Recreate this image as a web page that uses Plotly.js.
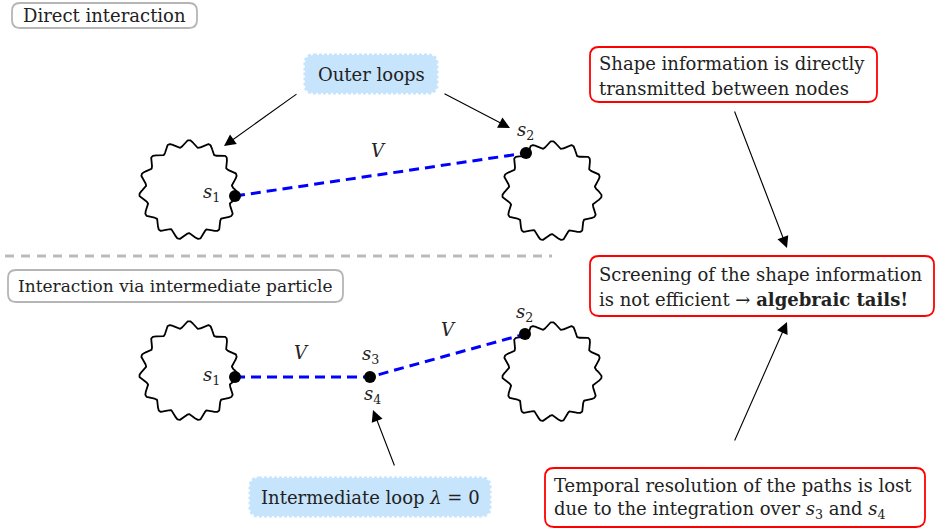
<!DOCTYPE html>
<html><head><meta charset="utf-8">
<script src="https://cdn.plot.ly/plotly-3.0.1.min.js"></script>
<style>html,body{margin:0;padding:0;background:#fff}#g{width:936px;height:531px}</style>
</head><body><div id="g"></div>
<script>
// Loops (wavy circles)
const loopCx = [189, 552, 189, 552];
const loopCy = [190, 191, 371, 372];
const loopR = [46.5, 46.5, 46.5, 46.5];
const loopWaves = 15;
const loopAmp = 3.4;

// Vertex dots
const dotX = [235, 526, 235, 370, 525];
const dotY = [196, 153, 377, 377, 334];

// Interaction lines (blue dashed)
const topLineX = [235, 526];
const topLineY = [196, 153];
const botLineX = [235, 370, 525];
const botLineY = [377, 377, 334];

// Math labels: symbol, subscript
const labelSym = ['s', 's', 'V', 's', 's', 's', 'V', 'V', 's'];
const labelSub = ['1', '2', '', '1', '3', '4', '', '', '2'];
const labelX = [211, 525, 378, 211, 370, 372, 301, 448, 524];
const labelY = [193, 131, 150, 376, 355, 395, 352, 329, 313];

// Arrows: tail -> head
const arrowTailX = [298, 443, 395, 734, 734];
const arrowTailY = [93, 93, 467, 110, 442];
const arrowHeadX = [224, 510, 373, 787, 787];
const arrowHeadY = [146, 128, 410, 248, 322];

// Boxes [x0,y0,x1,y1]
const grayBoxes = [[12, 3, 197, 28], [8, 270, 343, 302]];
const grayTexts = ['Direct interaction', 'Interaction via intermediate particle'];
const graySizes = [18, 17];
const redBoxes = [[590, 47, 877, 102], [590, 256, 934, 316], [545, 468, 925, 527]];
const redLines = [
  ['Shape information is directly', 'transmitted between nodes'],
  ['Screening of the shape information', 'is not efficient \u2192 <b>algebraic tails!</b>'],
  ['Temporal resolution of the paths is lost', 'due to the integration over <i>s</i><sub>3</sub> and <i>s</i><sub>4</sub>']
];
const redLineY = [[63, 88], [274, 299], [485, 510]];
const redTextX = [597, 597, 552];
const blueBoxes = [[305, 55, 437, 93], [250, 478, 490, 516]];
const blueTexts = ['Outer loops', 'Intermediate loop <i>\u03bb</i> = 0'];

// Separator
const sepX = [5, 552];
const sepY = [256, 256];

const FONT = 'DejaVu Serif';
const FS = 18;

function rrect(b, r) {
  const [x0, y0, x1, y1] = b;
  return `M${x0 + r},${y0} L${x1 - r},${y0} Q${x1},${y0} ${x1},${y0 + r} L${x1},${y1 - r} Q${x1},${y1} ${x1 - r},${y1} L${x0 + r},${y1} Q${x0},${y1} ${x0},${y1 - r} L${x0},${y0 + r} Q${x0},${y0} ${x0 + r},${y0} Z`;
}

const traces = [];
for (let i = 0; i < loopCx.length; i++) {
  const xs = [], ys = [];
  for (let k = 0; k <= 900; k++) {
    const t = 2 * Math.PI * k / 900;
    const r = loopR[i] + loopAmp * Math.sin(loopWaves * t);
    xs.push(loopCx[i] + r * Math.cos(t));
    ys.push(loopCy[i] + r * Math.sin(t));
  }
  traces.push({x: xs, y: ys, mode: 'lines', line: {color: '#000', width: 1.8}, hoverinfo: 'skip', showlegend: false});
}
traces.push({x: sepX, y: sepY, mode: 'lines', line: {color: '#bbbbbb', width: 3, dash: '9px,7px'}, showlegend: false});
traces.push({x: topLineX, y: topLineY, mode: 'lines', line: {color: '#0000ff', width: 3, dash: '10px,6px'}, showlegend: false});
traces.push({x: botLineX, y: botLineY, mode: 'lines', line: {color: '#0000ff', width: 3, dash: '10px,6px'}, showlegend: false});
traces.push({x: dotX, y: dotY, mode: 'markers', marker: {color: '#000', size: 12}, showlegend: false});

const shapes = [];
grayBoxes.forEach(b => shapes.push({type: 'path', path: rrect(b, 8), line: {color: '#b5b5b5', width: 1.8}, fillcolor: 'rgba(0,0,0,0)', layer: 'below'}));
redBoxes.forEach(b => shapes.push({type: 'path', path: rrect(b, 9), line: {color: '#ff0000', width: 1.8}, fillcolor: 'rgba(0,0,0,0)'}));
blueBoxes.forEach(b => shapes.push({type: 'path', path: rrect(b, 9), line: {color: '#c6e4fc', width: 3, dash: '3px,2px'}, fillcolor: '#c6e4fc', layer: 'below'}));

const ann = [];
const txtFont = {family: FONT, size: FS, color: '#222'};
for (let i = 0; i < labelSym.length; i++) {
  const t = '<i>' + labelSym[i] + '</i>' + (labelSub[i] ? '<sub>' + labelSub[i] + '</sub>' : '');
  ann.push({x: labelX[i], y: labelY[i], text: t, showarrow: false, xanchor: 'center', yanchor: 'middle', font: txtFont});
}
for (let i = 0; i < arrowTailX.length; i++) {
  ann.push({x: arrowHeadX[i], y: arrowHeadY[i], ax: arrowTailX[i], ay: arrowTailY[i], axref: 'x', ayref: 'y', xref: 'x', yref: 'y', text: '', showarrow: true, arrowhead: 2, arrowsize: 2.1, arrowwidth: 1.1, arrowcolor: '#000'});
}
grayBoxes.forEach((b, i) => ann.push({x: (b[0] + b[2]) / 2, y: (b[1] + b[3]) / 2, text: grayTexts[i], showarrow: false, font: {family: FONT, size: graySizes[i], color: '#222'}}));
blueBoxes.forEach((b, i) => ann.push({x: (b[0] + b[2]) / 2, y: (b[1] + b[3]) / 2, text: blueTexts[i], showarrow: false, font: txtFont}));
redLines.forEach((lines, i) => lines.forEach((ln, j) => ann.push({x: redTextX[i], y: redLineY[i][j], text: ln, showarrow: false, xanchor: 'left', yanchor: 'middle', align: 'left', font: txtFont})));

const layout = {
  width: 936, height: 531,
  margin: {l: 0, r: 0, t: 0, b: 0},
  font: {family: FONT, size: FS, color: '#222'},
  paper_bgcolor: '#fff', plot_bgcolor: '#fff',
  xaxis: {range: [0, 936], visible: false, fixedrange: true},
  yaxis: {range: [531, 0], visible: false, fixedrange: true},
  shapes: shapes, annotations: ann, showlegend: false
};
Plotly.newPlot('g', traces, layout, {displayModeBar: false});
</script></body></html>
